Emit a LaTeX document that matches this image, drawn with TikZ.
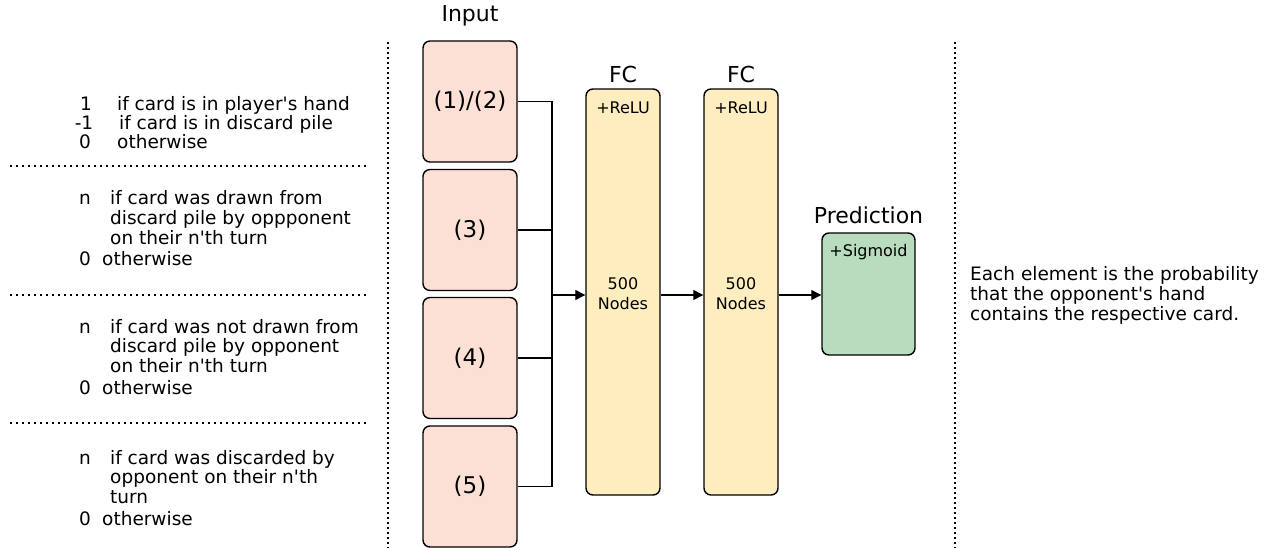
\documentclass[tikz,border=0pt]{standalone}
\usepackage{fontspec}
\setmainfont{DejaVu Sans}[Ligatures=TeXOff]
\usetikzlibrary{arrows.meta}
\definecolor{inputfill}{HTML}{FDE0D5}
\definecolor{fcfill}{HTML}{FEEDBE}
\definecolor{predfill}{HTML}{B9DCBE}
\tikzset{
  box/.style={draw=black, line width=1.4pt, rounded corners=7pt, inner sep=0pt},
  inbox/.style={box, fill=inputfill, minimum width=94pt, minimum height=121pt,
    font=\fontsize{23}{27}\selectfont},
  fcbox/.style={box, fill=fcfill, minimum width=74pt, minimum height=406pt},
  predbox/.style={box, fill=predfill, minimum width=93pt, minimum height=122pt},
  head/.style={font=\fontsize{22}{26}\selectfont, inner sep=0pt, anchor=base},
  small/.style={font=\fontsize{16}{19}\selectfont, inner sep=0pt, anchor=base},
  txt/.style={font=\fontsize{18.5}{20}\selectfont, inner sep=0pt, anchor=base west},
  num/.style={font=\fontsize{18.5}{20}\selectfont, inner sep=0pt, anchor=base},
  wire/.style={draw=black, line width=1.3pt},
  flow/.style={wire, -{Triangle[length=10pt,width=10pt]}},
  hsep/.style={line width=1.8pt, dash pattern=on 1.8pt off 4.2pt},
  vsep/.style={line width=1.8pt, dash pattern=on 1.8pt off 3.2pt},
}
\newcommand\lline[4]{\node[txt] (#1) at (#2,#3) {#4};}
\begin{document}
\begin{tikzpicture}[x=1pt, y=-1pt]
\useasboundingbox (0,0) rectangle (1266,548);

% input encoding descriptions
\node[num] (a1) at (86,111) {1};
\lline{at1}{117}{111}{if card is in player's hand}
\node[num] (a2) at (84,130) {-1};
\lline{at2}{119}{130}{if card is in discard pile}
\node[num] (a3) at (85,149) {0};
\lline{at3}{117}{149}{otherwise}
\draw[hsep] (10,166) coordinate (s1a) -- (368,166) coordinate (s1b);

\node[num] (b1) at (85,205) {n};
\lline{bt1}{110}{205}{if card was drawn from}
\lline{bt2}{110}{224.5}{discard pile by oppponent}
\lline{bt3}{110}{244}{on their n'th turn}
\node[num] (b4) at (85,265) {0};
\lline{bt4}{102}{265}{otherwise}
\draw[hsep] (10,295) coordinate (s2a) -- (368,295) coordinate (s2b);

\node[num] (c1) at (85,333) {n};
\lline{ct1}{110}{333}{if card was not drawn from}
\lline{ct2}{110}{352.5}{discard pile by opponent}
\lline{ct3}{110}{372}{on their n'th turn}
\node[num] (c4) at (85,394) {0};
\lline{ct4}{102}{394}{otherwise}
\draw[hsep] (10,423) coordinate (s3a) -- (368,423) coordinate (s3b);

\node[num] (d1) at (85,464) {n};
\lline{dt1}{110}{464}{if card was discarded by}
\lline{dt2}{110}{483.5}{opponent on their n'th}
\lline{dt3}{110}{503}{turn}
\node[num] (d4) at (85,525) {0};
\lline{dt4}{102}{525}{otherwise}

% section separators
\draw[vsep] (388,42) coordinate (v1a) -- (388,548) coordinate (v1b);
\draw[vsep] (955,42) coordinate (v2a) -- (955,548) coordinate (v2b);

% input blocks
\node[inbox] (in1) at (470,101.5) {(1)/(2)};
\node[inbox] (in2) at (470,230) {(3)};
\node[inbox] (in3) at (470,358) {(4)};
\node[inbox] (in4) at (470,486.5) {(5)};
\node[head] (inlab) at (470,22) {Input};

% hidden layers
\node[fcbox] (fc1) at (623,292) {};
\node[fcbox] (fc2) at (741,292) {};
\node[head] (fc1lab) at (623,83) {FC};
\node[head] (fc2lab) at (741,83) {FC};
\node[small] (r1) at (623,114) {+ReLU};
\node[small] (r2) at (741,114) {+ReLU};
\node[align=center, font=\fontsize{16}{20}\selectfont, inner sep=0pt] (n1) at (623,294) {500\\Nodes};
\node[align=center, font=\fontsize{16}{20}\selectfont, inner sep=0pt] (n2) at (741,294) {500\\Nodes};

% output layer
\node[predbox] (pred) at (868.5,294) {};
\node[head] (predlab) at (868.5,224) {Prediction};
\node[small] (sig) at (868.5,256) {+Sigmoid};

% connectors
\coordinate (jn) at (552,295);
\draw[wire] (in1.east) -| (jn);
\draw[wire] (in2.east) -| (jn);
\draw[wire] (in3.east) -| (jn);
\draw[wire] (in4.east) -| (jn);
\draw[flow] (jn) -- (fc1.west |- jn);
\draw[flow] (fc1.east |- jn) -- (fc2.west |- jn);
\draw[flow] (fc2.east |- jn) -- (pred.west |- jn);

% output description
\lline{o1}{970}{280}{Each element is the probability}
\lline{o2}{970}{300}{that the opponent's hand}
\lline{o3}{970}{320}{contains the respective card.}
\end{tikzpicture}
\end{document}
